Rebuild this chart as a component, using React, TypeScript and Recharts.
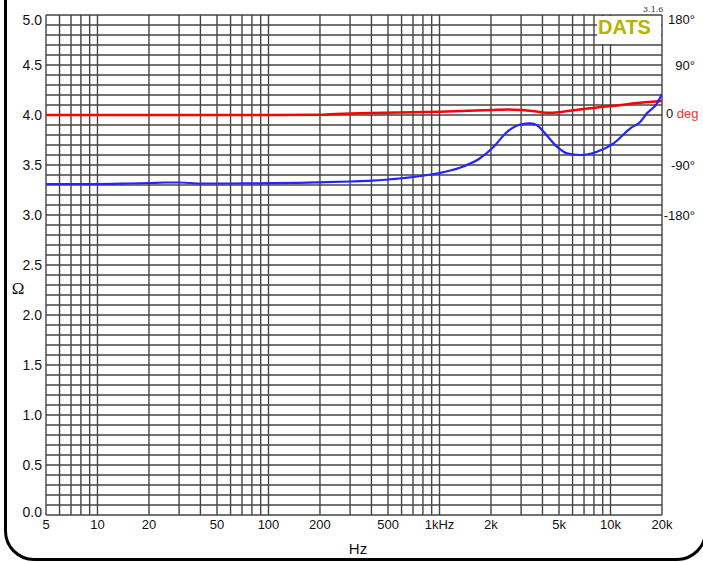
import {
  LineChart,
  Line,
  XAxis,
  YAxis,
  ReferenceLine,
} from 'recharts';

// impedance (ohm) vs frequency
const impFreq = [5, 7, 10, 15, 20, 25, 30, 40, 60, 100, 150, 200, 300, 400, 500, 700, 1000, 1300, 1700, 2070, 2480, 2970, 3400, 3700, 4060, 4860, 5560, 6660, 8330, 10430, 13060, 14940, 16330, 18700, 20000];
const impOhm = [3.31, 3.31, 3.31, 3.315, 3.32, 3.325, 3.325, 3.315, 3.315, 3.318, 3.322, 3.327, 3.335, 3.343, 3.355, 3.38, 3.42, 3.47, 3.56, 3.68, 3.83, 3.905, 3.917, 3.9, 3.833, 3.683, 3.617, 3.6, 3.633, 3.717, 3.867, 3.933, 4.017, 4.117, 4.21];

// phase (degrees) vs frequency
const phaseFreq = [5, 100, 200, 230, 400, 700, 1000, 2000, 2500, 3000, 3500, 4300, 5000, 6600, 10000, 15000, 20000];
const phaseDeg = [0, 0, 0.5, 1.5, 3.5, 5, 6, 9, 10, 9, 7, 4, 5, 10, 16, 22, 25];

const xTicks = [5, 10, 20, 50, 100, 200, 500, 1000, 2000, 5000, 10000, 20000];
const xTickLabels = ['5', '10', '20', '50', '100', '200', '500', '1kHz', '2k', '5k', '10k', '20k'];
const ohmTicks = [0, 0.5, 1, 1.5, 2, 2.5, 3, 3.5, 4, 4.5, 5];
const degTicks = [-180, -90, 0, 90, 180];

const impData = impFreq.map((f, i) => ({ f, v: impOhm[i] }));
const phaseData = phaseFreq.map((f, i) => ({ f, v: phaseDeg[i] }));

// grid: 1-2-3..9 per decade, 0.1 ohm steps
const gridX: number[] = [];
for (let d = 1; d <= 10000; d *= 10) {
  for (let m = 1; m <= 9; m++) {
    const v = m * d;
    if (v >= 5 && v <= 20000) gridX.push(v);
  }
}
const gridY: number[] = [];
for (let i = 0; i <= 50; i++) gridY.push(i / 10);

const FONT = '"Liberation Sans", Arial, sans-serif';
const GRID = '#444';

function XTick({ x, payload }: any) {
  const idx = xTicks.indexOf(payload.value);
  return (
    <text x={x} y={529} textAnchor="middle" fontSize={13} fontFamily={FONT} fill="#111">
      {xTickLabels[idx]}
    </text>
  );
}

function OhmTick({ y, payload }: any) {
  let dy = 5;
  if (payload.value === 5) dy = 10;
  if (payload.value === 0) dy = 2;
  return (
    <text x={42} y={y + dy} textAnchor="end" fontSize={14} fontFamily={FONT} fill="#111">
      {payload.value.toFixed(1)}
    </text>
  );
}

function DegTick({ y, payload }: any) {
  const v = payload.value;
  if (v === 0) {
    return (
      <text x={666} y={y + 3} fontSize={13} fontFamily={FONT} fill="#111">
        0 <tspan fill="#ff3030">deg</tspan>
      </text>
    );
  }
  const dy = v === 180 ? 9 : 5;
  return (
    <text x={695} y={y + dy} textAnchor="end" fontSize={13} fontFamily={FONT} fill="#111">
      {v > 0 ? `${v}°` : `-${-v}°`}
    </text>
  );
}

export default function App() {
  return (
    <div style={{ position: 'relative', width: 703, height: 562, overflow: 'hidden', background: '#fff' }}>
      <style>{`body{margin:0}`}</style>
      <LineChart width={703} height={562} margin={{ top: 15, right: 0, left: 0, bottom: 0 }}>
        <XAxis
          dataKey="f"
          type="number"
          scale="log"
          domain={[5, 20000]}
          ticks={xTicks}
          allowDataOverflow
          axisLine={false}
          tickLine={false}
          height={47}
          tick={<XTick />}
          interval={0}
        />
        <YAxis
          yAxisId="ohm"
          type="number"
          domain={[0, 5]}
          ticks={ohmTicks}
          axisLine={false}
          tickLine={false}
          width={46}
          tick={<OhmTick />}
          interval={0}
        />
        <YAxis
          yAxisId="deg"
          orientation="right"
          type="number"
          domain={[-720, 180]}
          ticks={degTicks}
          axisLine={false}
          tickLine={false}
          width={41}
          tick={<DegTick />}
          interval={0}
        />
        {gridY.map((v) => (
          <ReferenceLine key={'y' + v} yAxisId="ohm" y={v} stroke={GRID} strokeWidth={1.4} />
        ))}
        {gridX.map((v) => (
          <ReferenceLine key={'x' + v} yAxisId="ohm" x={v} stroke={GRID} strokeWidth={1.4} />
        ))}
        <Line
          yAxisId="deg"
          data={phaseData}
          dataKey="v"
          type="monotone"
          stroke="#ff0000"
          strokeWidth={2.5}
          dot={false}
          isAnimationActive={false}
        />
        <Line
          yAxisId="ohm"
          data={impData}
          dataKey="v"
          type="monotone"
          stroke="#2424ff"
          strokeWidth={2.2}
          dot={false}
          isAnimationActive={false}
        />
      </LineChart>

      {/* DATS logo box */}
      <div
        style={{
          position: 'absolute',
          left: 597,
          top: 16,
          width: 64,
          height: 28,
          background: '#fff',
        }}
      />
      <div
        style={{
          position: 'absolute',
          left: 598,
          top: 15,
          fontFamily: FONT,
          fontWeight: 'bold',
          fontSize: 20,
          color: '#b3b300',
          lineHeight: '24px',
        }}
      >
        DATS
      </div>
      <div
        style={{
          position: 'absolute',
          left: 643,
          top: 5,
          fontFamily: '"DejaVu Serif", "Liberation Serif", serif',
          fontSize: 8,
          color: '#333',
          lineHeight: '10px',
        }}
      >
        3.1.6
      </div>

      {/* axis titles */}
      <div
        style={{
          position: 'absolute',
          left: 338,
          top: 540,
          width: 40,
          textAlign: 'center',
          fontFamily: FONT,
          fontSize: 15,
          color: '#111',
          lineHeight: '18px',
        }}
      >
        Hz
      </div>
      <div
        style={{
          position: 'absolute',
          left: 8,
          top: 279,
          width: 20,
          textAlign: 'center',
          fontFamily: '"Liberation Serif", "DejaVu Serif", serif',
          fontSize: 17,
          color: '#111',
          lineHeight: '20px',
        }}
      >
        Ω
      </div>

      {/* outer rounded frame */}
      <div
        style={{
          position: 'absolute',
          left: 4,
          top: -40,
          width: 703,
          height: 601,
          boxSizing: 'border-box',
          border: '3px solid #000',
          borderRadius: 30,
        }}
      />
    </div>
  );
}
